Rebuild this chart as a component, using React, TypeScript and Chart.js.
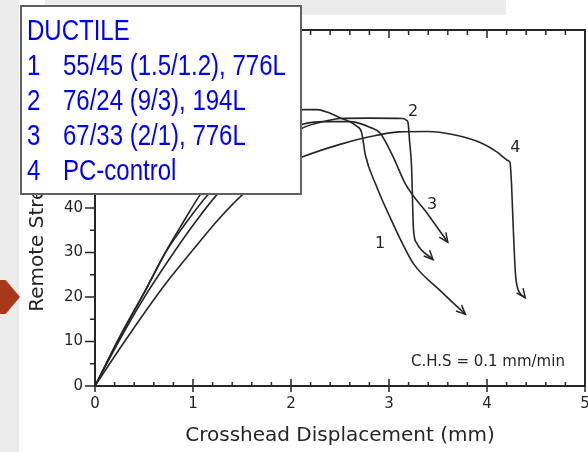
import { useEffect, useRef } from 'react';
import { Chart, registerables } from 'chart.js';

Chart.register(...registerables);

// ---- data (x: crosshead displacement in mm, y: remote stress in MPa) ----
const curve1X = [0, 0.25, 0.5, 0.73, 0.9, 1.07, 1.3, 1.55, 1.8, 2.0, 2.13, 2.26, 2.5, 2.67, 2.72, 2.76, 2.87, 3.03, 3.25, 3.52, 3.78];
const curve1Y = [0, 11, 21, 30.5, 36.8, 42.9, 49.5, 55, 59, 61.3, 62.1, 62.1, 60.3, 58.4, 57, 51.8, 45, 37, 27.5, 21.5, 16.1];

const curve2X = [0, 0.25, 0.5, 0.82, 1.03, 1.24, 1.5, 1.8, 2.12, 2.35, 2.5, 2.8, 3.14, 3.18, 3.195, 3.21, 3.23, 3.25, 3.28, 3.45];
const curve2Y = [0, 10.3, 19.8, 30.5, 37, 42.9, 48.5, 53.5, 58, 59.5, 60.1, 60.2, 60.1, 59.7, 59.1, 55, 49.4, 35.2, 32.2, 28.4];

const curve3X = [0, 0.25, 0.5, 0.73, 0.94, 1.15, 1.4, 1.7, 1.95, 2.12, 2.33, 2.6, 2.81, 2.91, 3.04, 3.17, 3.4, 3.6];
const curve3Y = [0, 10.8, 20.8, 30.4, 37, 42.9, 48.5, 53.5, 56.8, 58.8, 59.4, 59.4, 58.1, 56.8, 51.6, 45.3, 38.5, 32.3];

const curve4X = [0, 0.25, 0.5, 0.75, 1.0, 1.25, 1.5, 1.75, 2.0, 2.12, 2.5, 2.8, 3.1, 3.4, 3.65, 3.93, 4.1, 4.22, 4.235, 4.25, 4.27, 4.29, 4.31, 4.39];
const curve4Y = [0, 8.3, 16.3, 23.8, 30.6, 37.2, 42.9, 47.2, 50.3, 51.5, 54.3, 56, 57.1, 57.2, 56.5, 54.7, 52.6, 50.6, 50.2, 45.5, 34.4, 25.3, 22.2, 19.8];

const curveXs = [curve1X, curve2X, curve3X, curve4X];
const curveYs = [curve1Y, curve2Y, curve3Y, curve4Y];

const curveNumbers = ['1', '2', '3', '4'];
const legendTitle = 'DUCTILE';
const legendLabels = ['55/45 (1.5/1.2), 776L', '76/24 (9/3), 194L', '67/33 (2/1), 776L', 'PC-control'];

// curve number annotations (data coordinates)
const curveLabelX = [2.91, 3.245, 3.44, 4.29];
const curveLabelY = [31.9, 61.5, 40.8, 53.6];

const rateNote = 'C.H.S = 0.1 mm/min';
const rateNoteX = 4.01;
const rateNoteY = 5.3;

const xTitle = 'Crosshead Displacement (mm)';
const yTitle = 'Remote Stress (MPa)';
const xMin = 0;
const xMax = 5;
const xMajorStep = 1;
const xMinorStep = 0.2;
const yMin = 0;
const yMax = 80;
const yMajorStep = 10;
const yMinorStep = 5;

const INK = '#262626';
const FONT = "'DejaVu Sans', sans-serif";

const framePlugin = {
  id: 'frameTicks',
  afterDatasetsDraw(chart: any) {
    const { ctx, chartArea: a, scales } = chart;
    const x = scales.x;
    const y = scales.y;
    ctx.save();
    ctx.strokeStyle = INK;
    ctx.lineWidth = 1.5;
    ctx.beginPath();
    const nx = Math.round((xMax - xMin) / xMinorStep);
    const perMajorX = Math.round(xMajorStep / xMinorStep);
    for (let i = 0; i <= nx; i++) {
      const px = x.getPixelForValue(xMin + i * xMinorStep);
      const major = i % perMajorX === 0;
      ctx.moveTo(px, a.bottom + (major ? 6 : 0));
      ctx.lineTo(px, a.bottom - (major ? 7 : 4));
      ctx.moveTo(px, a.top);
      ctx.lineTo(px, a.top + (major ? 8 : 5));
    }
    const ny = Math.round((yMax - yMin) / yMinorStep);
    const perMajorY = Math.round(yMajorStep / yMinorStep);
    for (let i = 0; i <= ny; i++) {
      const py = y.getPixelForValue(yMin + i * yMinorStep);
      const major = i % perMajorY === 0;
      ctx.moveTo(a.left - (major ? 10 : 5), py);
      ctx.lineTo(a.left, py);
    }
    ctx.stroke();
    ctx.lineWidth = 2;
    ctx.strokeRect(a.left, a.top, a.right - a.left, a.bottom - a.top);

    // arrowheads at the end of each curve
    ctx.lineWidth = 1.5;
    chart.data.datasets.forEach((_: any, di: number) => {
      const meta = chart.getDatasetMeta(di);
      const pts = meta.data;
      const n = pts.length;
      if (n < 2) return;
      const p1 = pts[n - 1];
      const p0 = pts[n - 2];
      const ang = Math.atan2(p1.y - p0.y, p1.x - p0.x);
      const len = 10;
      ctx.beginPath();
      ctx.moveTo(p1.x - len * Math.cos(ang - 0.42), p1.y - len * Math.sin(ang - 0.42));
      ctx.lineTo(p1.x, p1.y);
      ctx.lineTo(p1.x - len * Math.cos(ang + 0.42), p1.y - len * Math.sin(ang + 0.42));
      ctx.stroke();
    });

    // curve numbers
    ctx.fillStyle = INK;
    ctx.font = `16px ${FONT}`;
    ctx.textAlign = 'center';
    ctx.textBaseline = 'middle';
    curveNumbers.forEach((t, i) => {
      ctx.fillText(t, x.getPixelForValue(curveLabelX[i]), y.getPixelForValue(curveLabelY[i]));
    });
    ctx.font = `15px ${FONT}`;
    ctx.fillText(rateNote, x.getPixelForValue(rateNoteX), y.getPixelForValue(rateNoteY));
    ctx.restore();
  },
};

const legendPlugin = {
  id: 'legendBox',
  afterDraw(chart: any) {
    const { ctx } = chart;
    ctx.save();
    ctx.fillStyle = '#ffffff';
    ctx.fillRect(20, 5, 282, 190);
    ctx.strokeStyle = '#606060';
    ctx.lineWidth = 2;
    ctx.strokeRect(21, 6, 280, 188);
    ctx.fillStyle = '#0000f2';
    ctx.font = "24px 'Liberation Sans', Arial, sans-serif";
    ctx.textAlign = 'left';
    ctx.textBaseline = 'alphabetic';
    const drawText = (t: string, tx: number, ty: number) => {
      ctx.save();
      ctx.translate(tx, ty);
      ctx.scale(1, 1.2);
      ctx.fillText(t, 0, 0);
      ctx.restore();
    };
    drawText(legendTitle, 27, 40);
    legendLabels.forEach((lab, i) => {
      const base = 75 + i * 35;
      drawText(curveNumbers[i], 27, base);
      drawText(lab, 63, base);
    });
    ctx.restore();
  },
};

export default function App() {
  const ref = useRef<HTMLCanvasElement>(null);

  useEffect(() => {
    if (!ref.current) return;
    const datasets = curveXs.map((xs, i) => ({
      label: curveNumbers[i] + ' ' + legendLabels[i],
      data: xs.map((xv, j) => ({ x: xv, y: curveYs[i][j] })),
      borderColor: INK,
      borderWidth: 1.6,
      pointRadius: 0,
      fill: false,
      cubicInterpolationMode: 'monotone' as const,
    }));
    const chart = new Chart(ref.current, {
      type: 'line',
      data: { datasets },
      plugins: [framePlugin, legendPlugin],
      options: {
        animation: false,
        responsive: false,
        devicePixelRatio: 1,
        layout: { padding: { top: 30, right: 3, bottom: 0, left: 0 } },
        plugins: { legend: { display: false }, tooltip: { enabled: false } },
        scales: {
          x: {
            type: 'linear',
            min: xMin,
            max: xMax,
            grid: { display: false, drawTicks: false },
            border: { display: false },
            ticks: { stepSize: xMajorStep, padding: 9, color: INK, font: { family: FONT, size: 15 } },
            title: { display: true, text: xTitle, color: INK, font: { family: FONT, size: 20 }, padding: { top: 4, bottom: 4 } },
            afterFit(s: any) {
              s.height = 66;
              s.paddingLeft = 0;
              s.paddingRight = 0;
            },
          },
          y: {
            type: 'linear',
            min: yMin,
            max: yMax,
            grid: { display: false, drawTicks: false },
            border: { display: false },
            ticks: { stepSize: yMajorStep, padding: 12, color: INK, font: { family: FONT, size: 15 } },
            title: { display: true, text: yTitle, color: INK, font: { family: FONT, size: 20 }, padding: { top: 26, bottom: 4 } },
            afterFit(s: any) {
              s.width = 95;
              s.paddingTop = 0;
              s.paddingBottom = 0;
            },
          },
        },
      },
    });
    return () => chart.destroy();
  }, []);

  return (
    <div style={{ position: 'fixed', left: 0, top: 0, width: 588, height: 452, overflow: 'hidden', background: '#ffffff' }}>
      <div style={{ position: 'absolute', left: 0, top: 0, width: 19, height: 452, background: '#ebebeb' }} />
      <div style={{ position: 'absolute', left: 45, top: 0, width: 461, height: 15, background: '#ececec' }} />
      <div
        style={{
          position: 'absolute',
          left: 0,
          top: 280,
          width: 20,
          height: 34,
          background: '#a8381a',
          clipPath: 'polygon(0 0, 28% 0, 100% 50%, 28% 100%, 0 100%)',
        }}
      />
      <canvas ref={ref} width={588} height={452} style={{ position: 'absolute', left: 0, top: 0, display: 'block' }} />
    </div>
  );
}
